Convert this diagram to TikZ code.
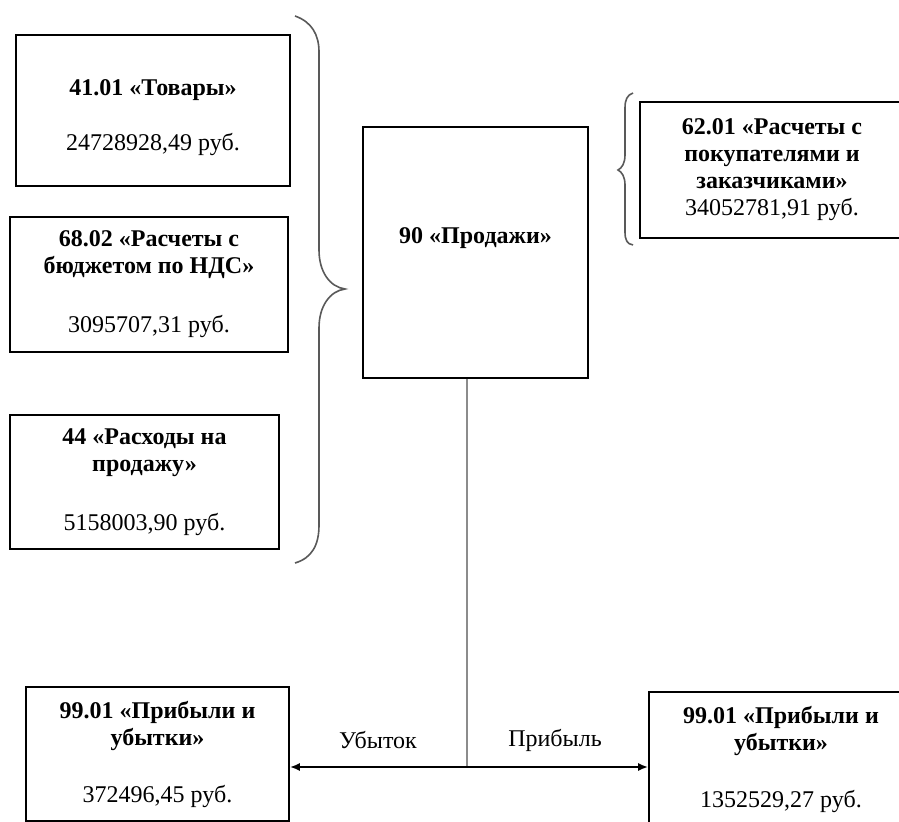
\documentclass[tikz,border=0pt]{standalone}
\usepackage{fontspec}
\setmainfont{Liberation Serif}
\usetikzlibrary{arrows.meta,positioning}

\tikzset{
  acc/.style={draw, line width=0.8pt, align=center, inner sep=0pt, font=\fontsize{12}{13.5}\selectfont},
  brc/.style={draw=black!65, line width=0.8pt},
  lbl/.style={inner sep=1pt, font=\fontsize{12}{13.5}\selectfont},
}

\begin{document}
\begin{tikzpicture}[x=0.5pt,y=-0.5pt]
\useasboundingbox (0,0) rectangle (899,822);
\clip (0,0) rectangle (899,822);
% Debit accounts
\node[acc,minimum width=137pt,minimum height=75.5pt] (tov) at (153,110.5) {\rule{0pt}{15pt}\textbf{41.01 «Товары»}\\[14pt] 24728928,49 руб.};
\node[acc,minimum width=139pt,minimum height=67.5pt] (nds) at (149,284.5) {\textbf{68.02 «Расчеты с}\\ \textbf{бюджетом по НДС»}\\[16pt] 3095707,31 руб.};
\node[acc,minimum width=134.5pt,minimum height=67pt] (rash) at (144.5,482) {\textbf{44 «Расходы на}\\ \textbf{продажу»}\\[16pt] 5158003,90 руб.};
% Account 90
\node[acc,minimum width=112.5pt,minimum height=125.5pt] (prod) at (475.5,252.5) {\textbf{90 «Продажи»}\\[3.5pt] ~};
% Account 62.01
\node[acc,minimum width=132pt,minimum height=68pt] (pok) at (772,170) {\textbf{62.01 «Расчеты с}\\ \textbf{покупателями и}\\ \textbf{заказчиками»}\\ 34052781,91 руб.};
% Account 99.01
\node[acc,minimum width=131.5pt,minimum height=67pt] (ubl) at (157.5,754) {\textbf{99.01 «Прибыли и}\\ \textbf{убытки»}\\[15pt] 372496,45 руб.};
\node[acc,minimum width=132pt,minimum height=67pt] (prr) at (781,759) {\textbf{99.01 «Прибыли и}\\ \textbf{убытки»}\\[15pt] 1352529,27 руб.};
% Braces
\draw[brc] (295,16) .. controls (312,22) and (319,35) .. (319,52) -- (319,250)
  .. controls (319,272) and (330,287) .. (345,289)
  .. controls (330,291) and (319,306) .. (319,328) -- (319,525)
  .. controls (319,545) and (312,558) .. (295,563);
\draw[brc] (633,93) .. controls (627,95) and (625,100) .. (625,108) -- (625,155)
  .. controls (625,163) and (622,168) .. (618,170)
  .. controls (622,172) and (625,177) .. (625,185) -- (625,232)
  .. controls (625,240) and (627,244) .. (633,245);
% Result
\coordinate (split) at (467,767);
\draw[black!45,line width=0.8pt] (prod.south -| split) -- (split);
\draw[line width=1pt,{Latex[length=5pt,width=4pt]}-{Latex[length=5pt,width=4pt]}] (split -| ubl.east) -- (split -| prr.west);
\node[lbl] (ub) at (378,740) {Убыток};
\node[lbl] (pr) at (555,740) {Прибыль};
\end{tikzpicture}
\end{document}
